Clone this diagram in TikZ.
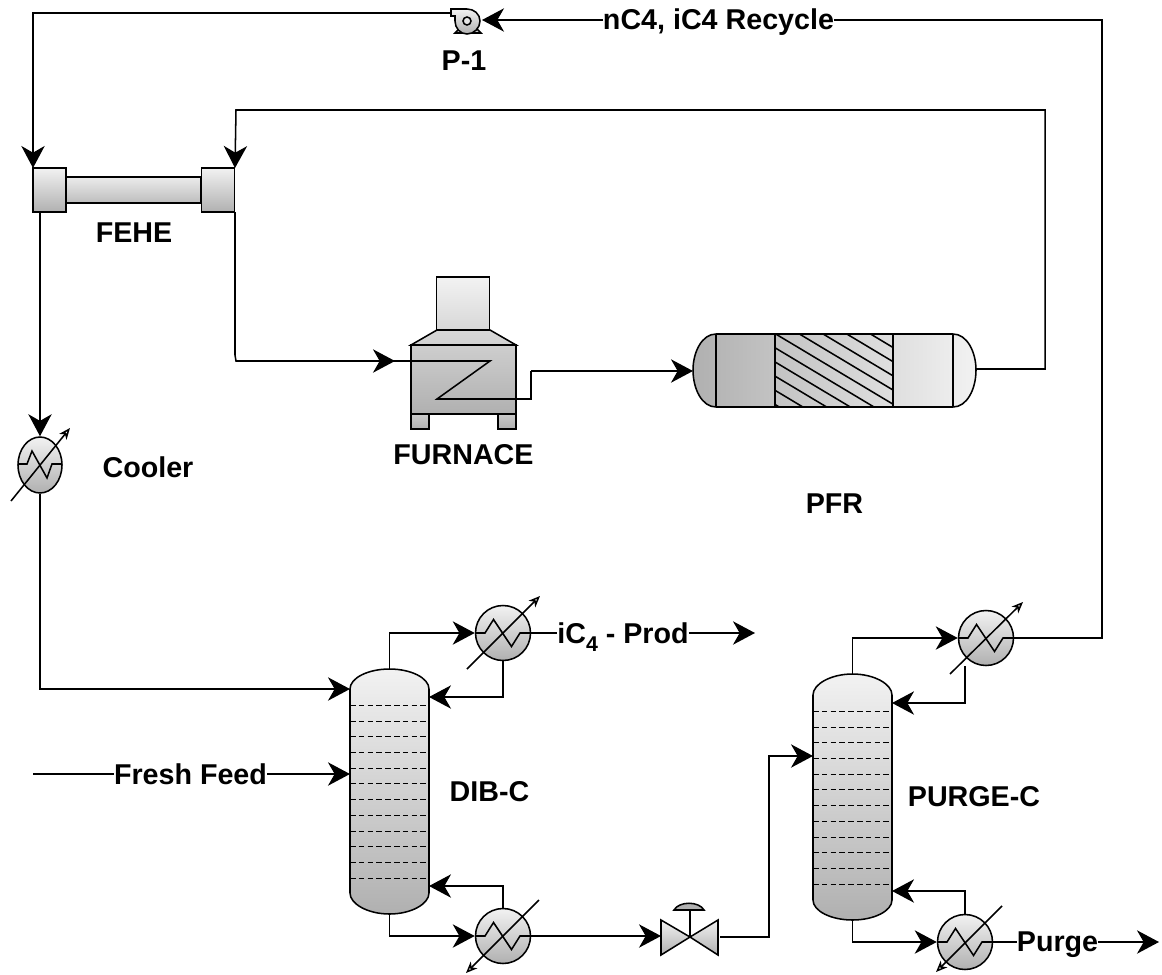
\documentclass[tikz,border=0pt]{standalone}
\usepackage{fontspec}
\setmainfont{Liberation Sans}
\usetikzlibrary{arrows.meta,shapes.geometric,calc}
\definecolor{gtop}{HTML}{F2F2F2}
\definecolor{gbot}{HTML}{B0B0B0}
\tikzset{
  pipe/.style={line width=1.15pt,line join=miter},
  flow/.style={pipe,-{Stealth[length=16.5pt,width=17.5pt,inset=5pt]}},
  equip/.style={draw=black,line width=1.15pt,top color=gtop,bottom color=gbot},
  tag/.style={font=\bfseries\fontsize{21.5}{24}\selectfont,inner sep=0pt,anchor=base},
  hxbody/.style={equip,circle,inner sep=0pt,minimum size=41.25pt},
  util/.style={line width=1.15pt,-{Stealth[open,length=8.5pt,width=7pt,inset=2.5pt]}},
  coil/.style={line width=1.15pt,line join=miter},
  tray/.style={line width=1.15pt,dash pattern=on 4.2pt off 2.4pt},
}
% name, x, y
\newcommand{\hxunit}[3]{%
  \node[hxbody] (#1) at (#2,#3) {};
  \draw[coil] ($(#1)+(-27.5,0)$) -- ++(9.5,0) -- ++(8.5,-13.5) -- ++(18,27) -- ++(8.5,-13.5) -- ++(10.5,0);
}
% column: name, left, right, top, shoulder-top, shoulder-bottom, bottom, first tray
\newcommand{\columnunit}[8]{%
  \path let \n1={(#2+#3)/2} in
    coordinate (#1top) at (\n1,#4) coordinate (#1bot) at (\n1,#7);
  \draw[equip] (#2,#5) .. controls (#2,{#5-11}) and ({#2+18},#4) .. (#1top)
     .. controls ({#3-18},#4) and (#3,{#5-11}) .. (#3,#5) -- (#3,#6)
     .. controls (#3,{#6+11}) and ({#3-18},#7) .. (#1bot)
     .. controls ({#2+18},#7) and (#2,{#6+11}) .. (#2,#6) -- cycle;
  \foreach \k in {0,...,11} \draw[tray] (#2,{round(#8+15.7*\k)+0.5}) -- (#3,{round(#8+15.7*\k)+0.5});
}
\begin{document}
\begin{tikzpicture}[x=0.75pt,y=-0.75pt]
\useasboundingbox (0,0) rectangle (1162,974);

% ---------- pump
\draw[equip] (455,33) -- (460,28) -- (476,28) -- (481,33) -- cycle;
\draw[equip] (451,9) -- (467,9) .. controls (474,9) and (480,14) .. (480,21)
   .. controls (480,28) and (474,34) .. (467,34) .. controls (460,34) and (455,28) .. (455,21)
   -- (455,16) -- (451,16) -- cycle;
\node[draw=black,line width=1.15pt,circle,inner sep=0pt,minimum size=6pt,fill=white!90!black] (pump) at (467,21) {};
\coordinate (pumpin) at (482,20);
\coordinate (pumpout) at (451,13);

% ---------- feed/effluent exchanger
\node[equip,inner sep=0pt,minimum width=101.25pt,minimum height=19.5pt,anchor=center,top color=gtop!90!gbot,bottom color=gbot!80!gtop] (tube) at (133.5,190) {};
\node[equip,inner sep=0pt,minimum width=25pt,minimum height=33pt] (fehel) at (49.5,190) {};
\node[equip,inner sep=0pt,minimum width=25pt,minimum height=33pt] (feher) at (218,190) {};
\coordinate (fehelin) at (33,168);
\coordinate (feherin) at (235,168);
\coordinate (feheout) at (40,212);
\coordinate (feherout) at (235,212);

% ---------- cooler
\node[equip,ellipse,inner sep=0pt,minimum width=33pt,minimum height=42pt] (cool) at (40,465) {};
\draw[coil] (18,464) -- (27,464) -- (32,451) -- (47,478) -- (52,464) -- (62,464);

% ---------- furnace
\node[equip,inner sep=0pt,minimum width=39.75pt,minimum height=39.75pt,top color=gtop,bottom color=gtop!60!gbot] (stack) at (463,303.5) {};
\draw[equip,top color=gtop!60!gbot,bottom color=gtop!50!gbot] (437,330) -- (490,330) -- (516,345) -- (411,345) -- cycle;
\node[equip,inner sep=0pt,minimum width=78.75pt,minimum height=51.75pt,top color=gtop!45!gbot,bottom color=gbot] (furn) at (463.5,379.5) {};
\node[equip,inner sep=0pt,minimum width=13.5pt,minimum height=11.25pt,top color=gbot!60!gtop,bottom color=gbot] (lega) at (420,421.5) {};
\node[equip,inner sep=0pt,minimum width=13.5pt,minimum height=11.25pt,top color=gbot!60!gtop,bottom color=gbot] (legb) at (507,421.5) {};
\coordinate (furnin) at (395,361);
\coordinate (furnout) at (531,399);

% ---------- plug flow reactor
\draw[draw=black,line width=1.15pt,left color=gbot,right color=gtop]
  (716,334) -- (953,334) .. controls (967,334) and (976,352) .. (976,370)
  .. controls (976,389) and (967,407) .. (953,407) -- (716,407)
  .. controls (702,407) and (693,389) .. (693,370) .. controls (693,352) and (702,334) .. (716,334) -- cycle;
\begin{scope}
  \clip (775,334) rectangle (893,407);
  \foreach \k in {-6,...,4} \draw[line width=1.15pt] ({775.7+23.7*\k},334) -- ({897.7+23.7*\k},407);
\end{scope}
\foreach \xx in {716,775,893,953} \draw[line width=1.15pt] (\xx,334) -- (\xx,407);
\node[inner sep=0pt,minimum width=212pt,minimum height=55pt] (pfr) at (834.5,370.5) {};
\coordinate (pfrin) at (693,371);
\coordinate (pfrout) at (975,369);

% ---------- columns
\columnunit{dib}{350}{429}{669}{689}{893}{914}{705}
\columnunit{pur}{813}{892}{674}{695}{900}{920}{711}
\coordinate (dibfeeda) at (350,689);
\coordinate (dibfeedb) at (350,774);
\coordinate (dibrefl) at (429,697);
\coordinate (dibboil) at (429,886);
\coordinate (purfeed) at (813,756);
\coordinate (purrefl) at (892,703);
\coordinate (purboil) at (892,891);

% ---------- exchangers
\hxunit{hxa}{503}{633}
\hxunit{hxb}{503}{936}
\hxunit{hxc}{986}{638}
\hxunit{hxd}{965}{942}
\draw[util] (467,669) -- (540,596);
\draw[util] (539,900) -- (466,973);
\draw[util] (950,674) -- (1023,602);
\draw[util] (1002,906) -- (936,972);
\draw[util] (11,501) -- (70,428);

% ---------- valve
\draw[equip] (661,920) -- (690,937) -- (661,955) -- cycle;
\draw[equip] (718,920) -- (690,937) -- (718,955) -- cycle;
\draw[line width=1.15pt] (690,937) -- (690,910);
\draw[draw=black,line width=1.15pt,fill=gbot] (674,910) .. controls (679,901) and (699,901) .. (704,910) -- cycle;
\node[inner sep=0pt,minimum width=42pt,minimum height=26pt] (valve) at (689.5,937.5) {};
\coordinate (valvein) at (661,936);
\coordinate (valveout) at (720,937);

% ---------- labels
\node[tag] (lp1) at (464,70) {P-1};
\node[tag] (lfehe) at (134,242) {FEHE};
\node[tag] (lcool) at (148,477) {Cooler};
\node[tag] (lfurn) at (463.5,464) {FURNACE};
\node[tag] (lpfr) at (834.5,513) {PFR};
\node[tag] (ldib) at (489.5,801) {DIB-C};
\node[tag] (lpur) at (974,806) {PURGE-C};
\node[tag] (lrec) at (718.5,30) {nC4, iC4 Recycle};
\node[tag] (lfresh) at (190.5,784) {Fresh Feed};
\node[tag] (lprod) at (623,643) {iC\raisebox{-0.28em}{\fontsize{16}{18}\selectfont 4} - Prod};
\node[tag] (lpurge) at (1057.5,951) {Purge};

% ---------- connectors
\coordinate (feedstart) at (33,774);
\coordinate (prodend) at (755,633);
\coordinate (purgeend) at (1159,942);
\draw[pipe] (hxc.east) -- (1102,638) |- (lrec.east |- pumpin);
\draw[flow] (lrec.west |- pumpin) -- (pumpin);
\draw[flow] (pumpout) -| (fehelin);
\draw[flow] (pfrout) -- (1045,369) -- (1045,110) -- (236,110) -- (feherin);
\draw[pipe] (feherout) -- (235,355) -- (236,361) -- (furnin);
\draw[flow] (235.5,361) -- (furnin);
\draw[pipe] (furnin) -- (490,361) -- (437,399) -- (furnout) -- (531,371) coordinate (furnup);
\draw[flow] (furnup) -- (pfrin);
\draw[flow] (feheout) -- (cool.north);
\draw[flow] (cool.south) |- (dibfeeda);
\draw[pipe] (feedstart) -- (lfresh.west |- feedstart);
\draw[flow] (lfresh.east |- feedstart) -- (dibfeedb);
\draw[flow] (dibtop) |- (hxa.west);
\draw[flow] (hxa.south) |- (dibrefl);
\draw[pipe] (hxa.east) -- (lprod.west |- hxa.east);
\draw[flow] (lprod.east |- prodend) -- (prodend);
\draw[flow] (dibbot) |- (hxb.west);
\draw[flow] (hxb.north) |- (dibboil);
\draw[flow] (hxb.east) -- (valvein);
\draw[flow] (valveout) -- (769,937) |- (purfeed);
\draw[flow] (purtop) |- (hxc.west);
\coordinate (hxcret) at (965,666);
\draw[flow] (hxcret) |- (purrefl);
\draw[flow] (purbot) |- (hxd.west);
\draw[flow] (hxd.north) |- (purboil);
\draw[pipe] (hxd.east) -- (lpurge.west |- hxd.east);
\draw[flow] (lpurge.east |- purgeend) -- (purgeend);
\end{tikzpicture}
\end{document}
